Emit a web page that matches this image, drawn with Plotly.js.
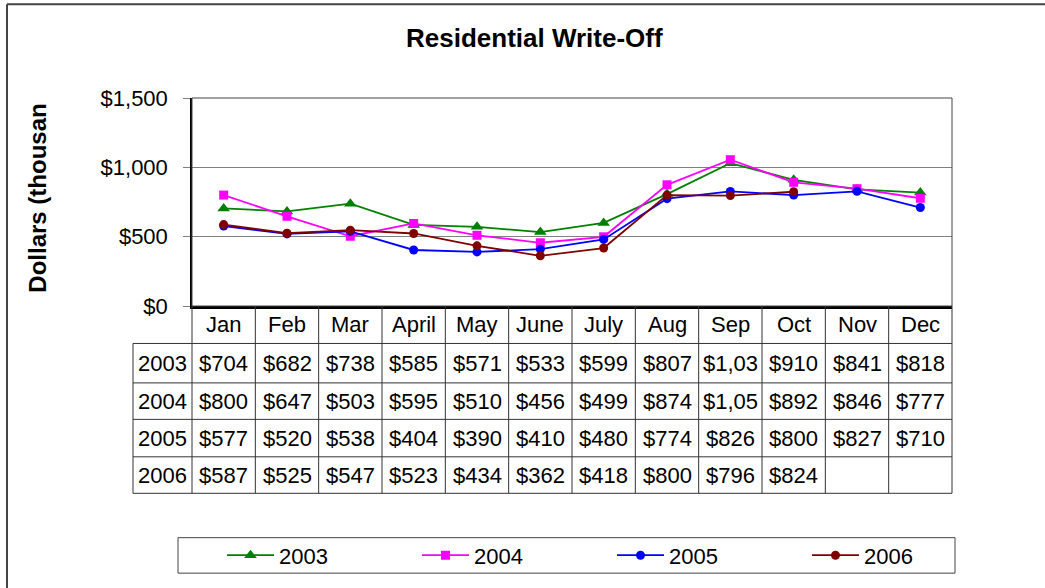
<!DOCTYPE html>
<html>
<head>
<meta charset="utf-8">
<script src="https://cdn.plot.ly/plotly-3.0.1.min.js"></script>
<style>
html,body{margin:0;padding:0;background:#fff;}
#chart{width:1045px;height:588px;}
</style>
</head>
<body>
<div id="chart"></div>
<script>
// ---- data ----
const months = ['Jan','Feb','Mar','April','May','June','July','Aug','Sep','Oct','Nov','Dec'];
const years = ['2003','2004','2005','2006'];
const v2003 = [704, 682, 738, 585, 571, 533, 599, 807, 1030, 910, 841, 818];
const v2004 = [800, 647, 503, 595, 510, 456, 499, 874, 1055, 892, 846, 777];
const v2005 = [577, 520, 538, 404, 390, 410, 480, 774, 826, 800, 827, 710];
const v2006 = [587, 525, 547, 523, 434, 362, 418, 800, 796, 824, null, null];
const yTicks = [0, 500, 1000, 1500];
const yTickText = ['$0', '$500', '$1,000', '$1,500'];

const series = [v2003, v2004, v2005, v2006];
const colors = ['#008000', '#FF00FF', '#0000FF', '#800000'];
const symbols = ['triangle-up', 'square', 'circle', 'circle'];
const msizes = [11, 9, 9, 9];

// ---- geometry (pixels) ----
const L = 192, R = 952, T = 98, B = 309;
const W = R - L, H = B - T;
const fx = px => (px - L) / W;
const fy = py => (B - py) / H;
const FONT = 'Liberation Sans, Arial, sans-serif';
const TXT = 22;

const rowBounds = [309, 347, 387, 424, 462, 499];
const labelLeft = 133;
const lineCol = '#333333';

const traces = series.map((vals, i) => ({
  type: 'scatter',
  mode: 'lines+markers',
  name: years[i],
  x: months,
  y: vals,
  line: {color: colors[i], width: 1.8},
  marker: {color: colors[i], symbol: symbols[i], size: msizes[i]},
  connectgaps: false,
  legendwidth: i === series.length - 1 ? 60 : 133,
  hoverinfo: 'x+y+name'
}));

const shapes = [];
// outer frame (left and top)
shapes.push({type:'line', xref:'paper', yref:'paper', x0:fx(7), x1:fx(7), y0:fy(3), y1:fy(600), line:{color:'#444', width:2}});
shapes.push({type:'line', xref:'paper', yref:'paper', x0:fx(7), x1:fx(1060), y0:fy(3), y1:fy(3), line:{color:'#444', width:2}});
// plot area border
shapes.push({type:'rect', xref:'paper', yref:'paper', x0:0, x1:1, y0:0, y1:1, line:{color:'#444', width:1}, layer:'above'});
// table vertical lines
for (let i = 0; i <= months.length; i++) {
  const px = L + i * W / months.length;
  shapes.push({type:'line', xref:'paper', yref:'paper', x0:fx(px), x1:fx(px), y0:fy(B), y1:fy(rowBounds[rowBounds.length-1]), line:{color:lineCol, width:1}});
}
// row label column left line
shapes.push({type:'line', xref:'paper', yref:'paper', x0:fx(labelLeft), x1:fx(labelLeft), y0:fy(rowBounds[1]), y1:fy(rowBounds[rowBounds.length-1]), line:{color:lineCol, width:1}});
// table horizontal lines
for (let r = 1; r < rowBounds.length; r++) {
  shapes.push({type:'line', xref:'paper', yref:'paper', x0:fx(labelLeft), x1:fx(R), y0:fy(rowBounds[r]), y1:fy(rowBounds[r]), line:{color:lineCol, width:1}});
}
// legend box
shapes.push({type:'rect', xref:'paper', yref:'paper', x0:fx(178), x1:fx(955), y0:fy(544), y1:fy(580), line:{color:'#444', width:1}});

const fmt = v => '$' + v.toLocaleString('en-US');
// cells are narrow: the reference clips long values to the cell width
const cellText = v => (v === null ? '' : fmt(v).slice(0, 5));

const annotations = [];
annotations.push({text:'<b>Residential Write-Off</b>', xref:'paper', yref:'paper', x:fx(534), y:fy(37), xanchor:'center', yanchor:'middle', showarrow:false, font:{family:FONT, size:26, color:'#000'}});
annotations.push({text:'<b>Dollars (thousan</b>', xref:'paper', yref:'paper', x:fx(38), y:fy(298), xanchor:'center', yanchor:'bottom', textangle:-90, showarrow:false, font:{family:FONT, size:24, color:'#000'}});
// header
months.forEach((m, i) => {
  annotations.push({text:m, xref:'x', yref:'paper', x:i, y:fy((rowBounds[0]+rowBounds[1])/2), xanchor:'center', yanchor:'middle', showarrow:false, font:{family:FONT, size:TXT, color:'#000'}});
});
// rows
series.forEach((vals, r) => {
  const cy = fy((rowBounds[r+1] + rowBounds[r+2]) / 2);
  annotations.push({text:years[r], xref:'paper', yref:'paper', x:fx((labelLeft + L) / 2), y:cy, xanchor:'center', yanchor:'middle', showarrow:false, font:{family:FONT, size:TXT, color:'#000'}});
  vals.forEach((v, i) => {
    if (v === null) return;
    annotations.push({text:cellText(v), xref:'x', yref:'paper', x:i, y:cy, xanchor:'center', yanchor:'middle', showarrow:false, font:{family:FONT, size:TXT, color:'#000'}});
  });
});

const layout = {
  width: 1045, height: 588, autosize: false,
  margin: {l: L, r: 1045 - R, t: T, b: 588 - B, pad: 0},
  paper_bgcolor: '#fff', plot_bgcolor: '#fff',
  font: {family: FONT, size: TXT, color: '#000'},
  showlegend: true,
  legend: {
    orientation: 'h', x: fx(222), xanchor: 'left', y: fy(562), yanchor: 'middle',
    font: {family: FONT, size: TXT, color: '#000'},
    itemwidth: 47, entrywidthmode: 'pixels',
    bgcolor: 'rgba(0,0,0,0)', borderwidth: 0, traceorder: 'normal'
  },
  xaxis: {
    type: 'category', range: [-0.5, 11.5], showticklabels: false, ticks: '',
    showgrid: false, zeroline: false, showline: true, linecolor: '#000', linewidth: 2.5, fixedrange: true
  },
  yaxis: {
    range: [0, 1500], tickvals: yTicks, ticktext: yTickText,
    showgrid: true, gridcolor: '#808080', gridwidth: 1, zeroline: false,
    showline: true, linecolor: '#000', linewidth: 1.5,
    ticks: 'outside', ticklen: 7, tickcolor: '#808080', tickwidth: 1,
    ticklabelstandoff: 11,
    tickfont: {family: FONT, size: TXT, color: '#000'}, fixedrange: true
  },
  shapes: shapes,
  annotations: annotations
};

Plotly.newPlot('chart', traces, layout, {displayModeBar: false, responsive: false});
</script>
</body>
</html>
